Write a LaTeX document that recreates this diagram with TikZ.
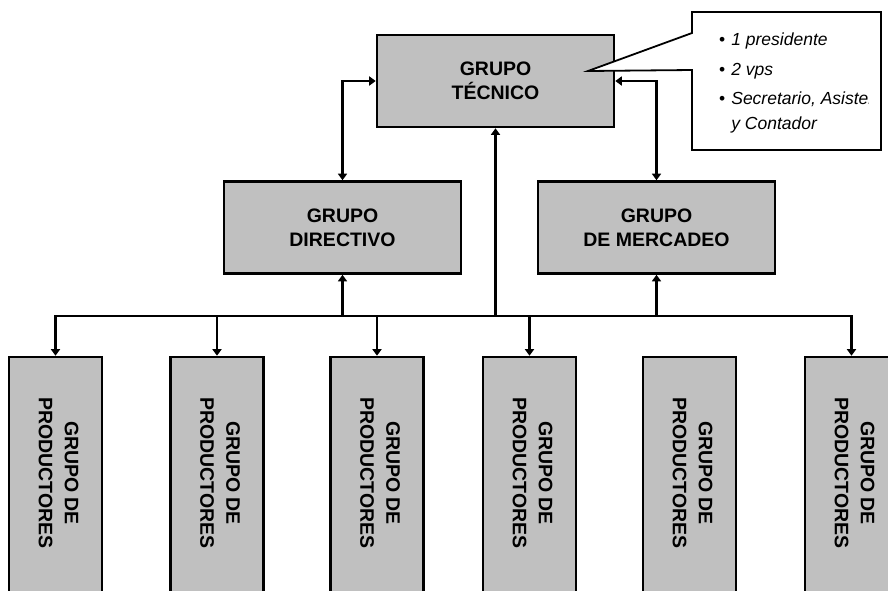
\documentclass[tikz,border=0pt]{standalone}
\usepackage{fontspec}
\setmainfont{Liberation Sans}
\usetikzlibrary{arrows.meta}
\definecolor{boxgray}{RGB}{192,192,192}
\begin{document}
\begin{tikzpicture}[x=1pt,y=-1pt,
  grp/.style={draw=black, fill=boxgray, line width=2.6pt, minimum width=237pt, minimum height=92pt, inner sep=0pt, align=center, font=\bfseries\fontsize{19.5}{24}\selectfont},
  prod/.style={draw=black, fill=boxgray, line width=2.6pt, minimum width=93pt, minimum height=253pt, inner sep=0pt},
  prodtxt/.style={rotate=-90, align=center, inner sep=0pt, font=\bfseries\fontsize{19.5}{26}\selectfont},
  conn/.style={line width=2.4pt},
  tip/.style={-{Triangle[width=9pt,length=6.5pt]}},
  bitip/.style={{Triangle[width=9pt,length=6.5pt]}-{Triangle[width=9pt,length=6.5pt]}},
  bul/.style={anchor=base west, inner sep=0pt, font=\fontsize{17.5}{20}\selectfont},
]
\clip (0,0) rectangle (888,590);
\fill[white] (0,0) rectangle (888,590);

% main boxes
\node[grp] (tec) at (495.5,81) {GRUPO\\TÉCNICO};
\node[grp] (dir) at (342.5,227.5) {GRUPO\\DIRECTIVO};
\node[grp] (mer) at (656.5,227.5) {GRUPO\\DE MERCADEO};

% producer boxes
\foreach \n/\cx in {1/55.5, 2/217, 3/377, 4/529.5, 5/689.5, 6/851.5}{
  \node[prod] (p\n) at (\cx,483.5) {};
  \node[prodtxt] (t\n) at (\cx+3,473) {GRUPO DE\\PRODUCTORES};
}

% bus
\coordinate (bus) at (56,316);
\draw[conn,bitip] (p1.north) -- (p1.north|-bus) -- (p6.north|-bus) -- (p6.north);
\foreach \n in {2,3,4}{
  \draw[conn,tip] (p\n.north|-bus) -- (p\n.north);
}

% up connectors
\draw[conn,tip] (tec.south|-bus) -- (tec.south);
\draw[conn,tip] (dir.south|-bus) -- (dir.south);
\draw[conn,tip] (mer.south|-bus) -- (mer.south);

% bidirectional links to top box
\draw[conn,bitip] (tec.west) -| (dir.north);
\draw[conn,bitip] (tec.east) -| (mer.north);

% callout
\draw[line width=1.8pt, fill=white, line join=miter]
  (692,12) -- (881,12) -- (881,150) -- (692,150) -- (692,70) -- (588,71) -- (692,33) -- cycle;
\node[bul] (b1) at (719,45) {\textbullet\hspace{6pt}\textit{1 presidente}};
\node[bul] (b2) at (719,75) {\textbullet\hspace{6pt}\textit{2 vps}};
\begin{scope}
  \clip (692,12) rectangle (868,150);
  \node[bul] (b3) at (719,104) {\textbullet\hspace{6pt}\textit{Secretario, Asistente}};
\end{scope}
\node[bul] (b4) at (719,129) {\phantom{\textbullet}\hspace{6pt}\textit{y Contador}};
\end{tikzpicture}
\end{document}
